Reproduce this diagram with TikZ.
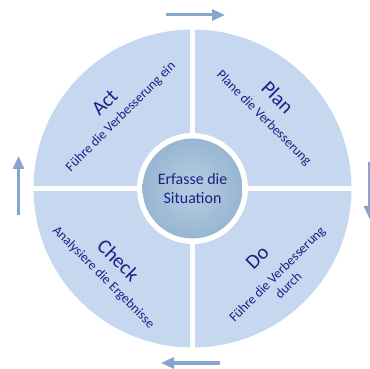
\documentclass[tikz,border=0pt]{standalone}
\usepackage{fontspec}
\setmainfont{Carlito}
\usetikzlibrary{arrows.meta}

\definecolor{sector}{HTML}{C5D8EF}
\definecolor{hubin}{HTML}{B6CEE2}
\definecolor{hubout}{HTML}{98B6D1}
\definecolor{ink}{RGB}{30,30,135}
\definecolor{flow}{HTML}{86A5CC}

\begin{document}
\begin{tikzpicture}
  [x=1bp, y=1bp,
   every node/.style={text=ink, inner sep=0pt},
   title/.style={font=\fontsize{20.5}{22}\selectfont},
   note/.style={font=\fontsize{13.5}{16}\selectfont, align=center},
   flowarrow/.style={draw=flow, line width=3bp, -{Triangle[length=13bp,width=11bp]}}]
  \useasboundingbox (0,0) rectangle (370,369);
  \begin{scope}[shift={(192.5,180.5)}]
    \fill[sector] (0,0) circle (159);
    \draw[white, line width=5bp] (-160,0) -- (160,0) (0,-160) -- (0,160);
    \fill[white] (0,0) circle (55.5);
    \node (situation) [circle, minimum size=100bp, inner color=hubin, outer color=hubout,
      align=center, font=\fontsize{16}{19}\selectfont] {Erfasse die\\Situation};
    \node (act) [title, rotate=45] at (135.5:123) {Act};
    \node (act-note) [note, rotate=45] at (135:101) {Führe die Verbesserung ein};
    \node (plan) [title, rotate=-45] at (47:125) {Plan};
    \node (plan-note) [note, rotate=-45] at (44.6:100) {Plane die Verbesserung};
    \node (check) [title, rotate=-45] at (224:103) {Check};
    \node (check-note) [note, rotate=-45] at (225:126) {Analysiere die Ergebnisse};
    \node (do) [title, rotate=45] at (-47:95) {Do};
    \node (do-note) [note, rotate=45] at (-45.3:128) {Führe die Verbesserung\\durch};
  \end{scope}
  \coordinate (top-a) at (166,354);
  \coordinate (top-b) at (225,354);
  \coordinate (right-a) at (369.5,207);
  \coordinate (right-b) at (369.5,150);
  \coordinate (bottom-a) at (220,6);
  \coordinate (bottom-b) at (161,6);
  \coordinate (left-a) at (18.5,154);
  \coordinate (left-b) at (18.5,213);
  \draw[flowarrow] (top-a) -- (top-b);
  \draw[flowarrow] (right-a) -- (right-b);
  \draw[flowarrow] (bottom-a) -- (bottom-b);
  \draw[flowarrow] (left-a) -- (left-b);
\end{tikzpicture}
\end{document}
